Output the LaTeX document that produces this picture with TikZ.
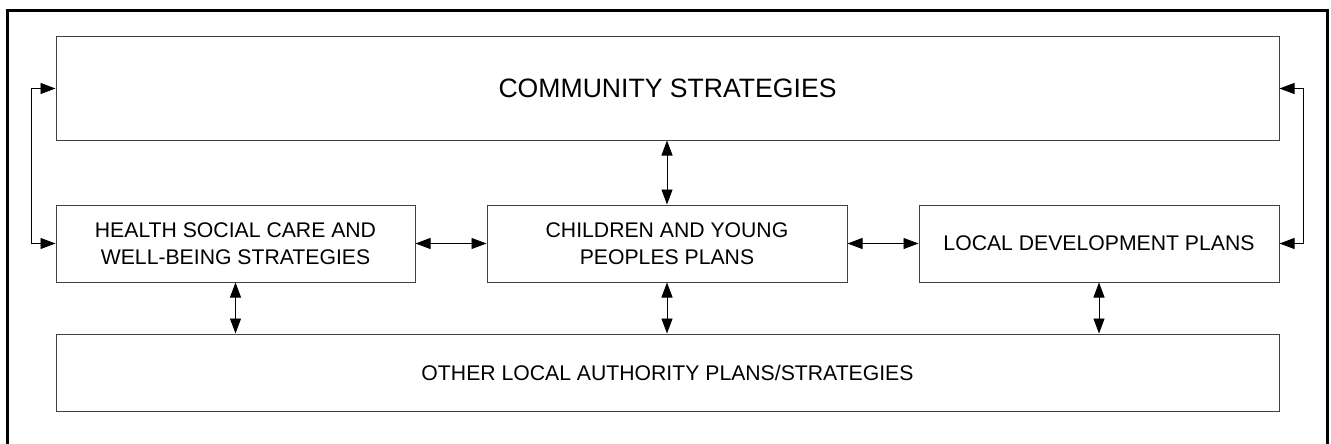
\documentclass[tikz,border=0pt]{standalone}
\usepackage{fontspec}
\setmainfont{Liberation Sans}
\usetikzlibrary{arrows.meta}
\begin{document}
\begin{tikzpicture}[x=1pt,y=-1pt,
  box/.style={draw=black!75,line width=1pt,inner sep=0pt,align=center,
    font=\fontsize{21.2}{27}\selectfont},
  conn/.style={line width=0.9pt,{Triangle[length=15pt,width=11pt]}-{Triangle[length=15pt,width=11pt]}},
  frame/.style={line width=3pt}]
\useasboundingbox (0,0) rectangle (1331,444);
\draw[frame] (7,446) -- (7,11) -- (1327,11) -- (1327,446);
\node[box,minimum width=1223pt,minimum height=103pt,font=\fontsize{26.6}{32}\selectfont] (comm) at (667.5,88.5) {COMMUNITY STRATEGIES};
\node[box,minimum width=359pt,minimum height=77pt] (health) at (235.5,243.5) {HEALTH SOCIAL CARE AND\\WELL-BEING STRATEGIES};
\node[box,minimum width=360pt,minimum height=77pt] (child) at (667,243.5) {CHILDREN AND YOUNG\\PEOPLES PLANS};
\node[box,minimum width=360pt,minimum height=77pt] (local) at (1099,243.5) {LOCAL DEVELOPMENT PLANS};
\node[box,minimum width=1223pt,minimum height=77pt] (other) at (667.5,372.5) {OTHER LOCAL AUTHORITY PLANS/STRATEGIES};
\coordinate (L) at (31,0);
\coordinate (R) at (1303,0);
\draw[conn] (comm.west) -- (comm.west -| L) |- (health.west);
\draw[conn] (comm.east) -- (comm.east -| R) |- (local.east);
\draw[conn] (comm.south -| child.north) -- (child.north);
\draw[conn] (health.east) -- (child.west);
\draw[conn] (child.east) -- (local.west);
\draw[conn] (health.south) -- (health.south |- other.north);
\draw[conn] (child.south) -- (child.south |- other.north);
\draw[conn] (local.south) -- (local.south |- other.north);
\end{tikzpicture}
\end{document}
